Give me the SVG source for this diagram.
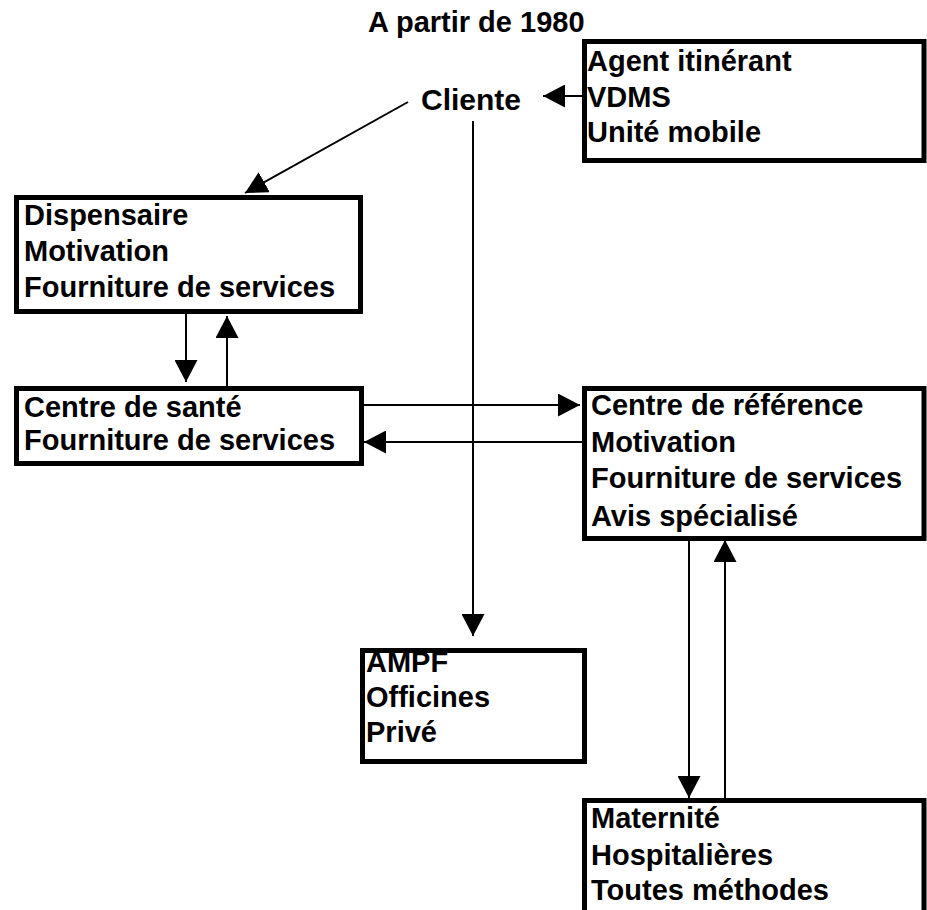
<svg xmlns="http://www.w3.org/2000/svg" width="927" height="910" viewBox="0 0 927 910">
<defs>
<style>
.box{fill:#fff;stroke:#000;stroke-width:5}
.t{font-family:"Liberation Sans",Arial,sans-serif;font-weight:bold;font-size:29px;fill:#000}
.c{fill:none;stroke:#000;stroke-width:2}
</style>
<marker id="ah" markerUnits="userSpaceOnUse" markerWidth="23" markerHeight="23" refX="22" refY="11.5" orient="auto">
<path d="M0,0 L22,11.5 L0,23 z" fill="#000"/>
</marker>
</defs>
<rect width="927" height="910" fill="#fff"/>
<text class="t" x="368" y="32">A partir de 1980</text>
<g id="connectors">
<line class="c" x1="582" y1="96" x2="543" y2="96" marker-end="url(#ah)"/>
<line class="c" x1="408" y1="102" x2="245" y2="193" marker-end="url(#ah)"/>
<line class="c" x1="473" y1="121" x2="473" y2="636" marker-end="url(#ah)"/>
<line class="c" x1="186" y1="314" x2="186" y2="382" marker-end="url(#ah)"/>
<line class="c" x1="227" y1="386" x2="227" y2="316" marker-end="url(#ah)"/>
<line class="c" x1="364" y1="405" x2="580" y2="405" marker-end="url(#ah)"/>
<line class="c" x1="582" y1="442" x2="364" y2="442" marker-end="url(#ah)"/>
<line class="c" x1="689" y1="541" x2="689" y2="798" marker-end="url(#ah)"/>
<line class="c" x1="725" y1="798" x2="725" y2="540" marker-end="url(#ah)"/>
</g>
<g id="cliente">
<text class="t" x="421" y="110" style="font-size:30px">Cliente</text>
</g>
<g id="agent">
<rect class="box" x="584.5" y="41.5" width="339.5" height="119"/>
<text class="t" x="587" y="71">Agent itinérant</text>
<text class="t" x="587" y="107">VDMS</text>
<text class="t" x="587" y="142">Unité mobile</text>
</g>
<g id="dispensaire">
<rect class="box" x="16.5" y="197.5" width="344" height="114"/>
<text class="t" x="24" y="225">Dispensaire</text>
<text class="t" x="24" y="261">Motivation</text>
<text class="t" x="24" y="297">Fourniture de services</text>
</g>
<g id="centre-sante">
<rect class="box" x="16.5" y="388.5" width="345" height="75"/>
<text class="t" x="24" y="417">Centre de santé</text>
<text class="t" x="24" y="450">Fourniture de services</text>
</g>
<g id="centre-reference">
<rect class="box" x="584.5" y="388.5" width="339.5" height="150"/>
<text class="t" x="591" y="415">Centre de référence</text>
<text class="t" x="591" y="452">Motivation</text>
<text class="t" x="591" y="488">Fourniture de services</text>
<text class="t" x="591" y="526">Avis spécialisé</text>
</g>
<g id="ampf">
<rect class="box" x="362.5" y="650.5" width="222" height="111"/>
<text class="t" x="366" y="672">AMPF</text>
<text class="t" x="366" y="707">Officines</text>
<text class="t" x="366" y="742">Privé</text>
</g>
<g id="maternite">
<rect class="box" x="584.5" y="800.5" width="339.5" height="130"/>
<text class="t" x="591" y="828">Maternité</text>
<text class="t" x="591" y="865">Hospitalières</text>
<text class="t" x="591" y="900">Toutes méthodes</text>
</g>
</svg>
